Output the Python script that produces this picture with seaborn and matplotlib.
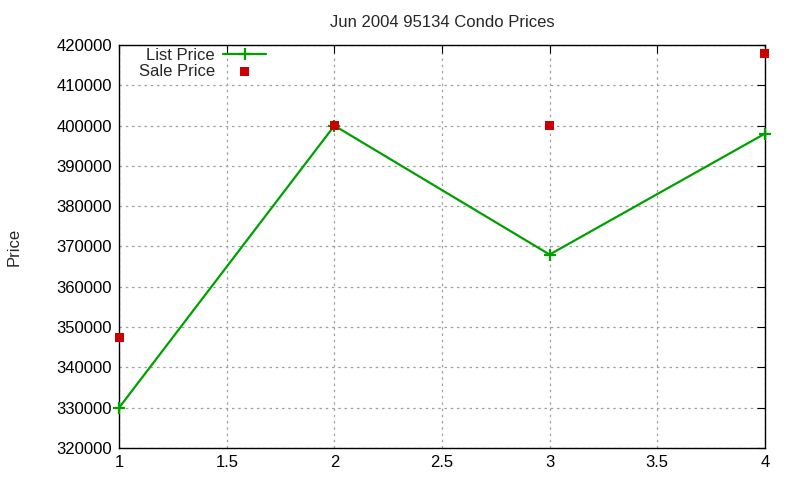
import pandas as pd
import seaborn as sns
import matplotlib.pyplot as plt

month = [1, 2, 3, 4]
list_price = [330000, 400000, 368000, 398000]
sale_price = [347500, 400000, 400000, 418000]

df = pd.DataFrame({'x': month, 'list': list_price, 'sale': sale_price})

sns.set_style('white')
plt.rcParams['font.family'] = ['Liberation Sans', 'DejaVu Sans']

fig = plt.figure(figsize=(8, 4.8), dpi=100)
ax = fig.add_axes([0.149, 0.067, 0.807, 0.839])

green = '#00a000'
sns.lineplot(data=df, x='x', y='list', ax=ax, color=green, linewidth=1.6,
             marker='+', markersize=9, markeredgewidth=1.6,
             markeredgecolor=green, label='List Price', clip_on=False, zorder=4)
sns.scatterplot(data=df, x='x', y='sale', ax=ax, color='#cc0000', marker='s',
                s=42, edgecolor='none', label='Sale Price', clip_on=False, zorder=5)

ax.set_xlim(1, 4)
ax.set_ylim(320000, 420000)
ax.set_xticks([1, 1.5, 2, 2.5, 3, 3.5, 4])
ax.set_xticklabels(['1', '1.5', '2', '2.5', '3', '3.5', '4'])
ax.set_yticks(range(320000, 420001, 10000))
ax.set_yticklabels([str(v) for v in range(320000, 420001, 10000)])
ax.tick_params(direction='in', length=6, top=True, right=True, colors='black',
               labelsize=12, pad=5)
ax.grid(True, color='#a0a0a0', linestyle=(0, (2, 3)), linewidth=0.9)
for s in ax.spines.values():
    s.set_color('black')
    s.set_linewidth(1)

ax.set_xlabel('')
ax.set_ylabel('Price', fontsize=12, labelpad=25)
ax.set_title('Jun 2004 95134 Condo Prices', fontsize=12, pad=13)

ax.legend(loc='upper left', bbox_to_anchor=(0.012, 1.022), frameon=False,
          markerfirst=False, fontsize=12, handlelength=2.6, borderpad=0.2,
          labelspacing=0.05, handletextpad=0.5)

fig.savefig('out.png', dpi=100)
